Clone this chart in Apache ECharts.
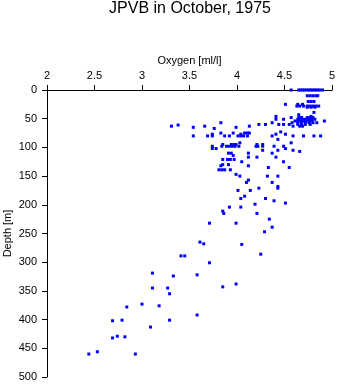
<!DOCTYPE html>
<html>
<head>
<meta charset="utf-8">
<script src="https://cdn.jsdelivr.net/npm/echarts@6/dist/echarts.min.js"></script>
<style>
html,body{margin:0;padding:0;background:#fff;}
#chart{width:338px;height:384px;}
</style>
</head>
<body>
<div id="chart"></div>
<script>
// Chart text
const titleText = 'JPVB in October, 1975';
const xName = 'Oxygen [ml/l]';
const yName = 'Depth [m]';

// Depth levels [m] and the oxygen values [ml/l] observed at each level
const depthLevels = [0,10,20,25,28,30,39,43,46,48,51,54,57,60,61,63,65,67,73,75,77,80,86,92,95,98,102,105,107,110,114,117,121,125,130,132,135,139,147,150,157,161,168,171,175,185,189,193,197,199,204,211,215,225,232,239,247,265,268,269,286,289,301,319,322,324,338,343,345,355,373,376,378,392,401,402,413,429,430,432,456,460];
const oxygenByLevel = [
  [4.57,4.65,4.67,4.69,4.71,4.73,4.75,4.77,4.79,4.81,4.83,4.85,4.87,4.90],
  [4.74,4.77,4.80,4.83,4.85],
  [4.75,4.78,4.81],
  [4.51,4.64,4.69],
  [4.63,4.66,4.70,4.74,4.77,4.80,4.83,4.86],
  [4.74,4.78,4.82],
  [4.81],
  [4.65],
  [4.41,4.78],
  [4.57,4.65,4.68,4.74,4.77,4.80],
  [4.41,4.49,4.64,4.67,4.70,4.73,4.76,4.79,4.82],
  [4.61,4.64,4.67,4.70,4.73,4.76,4.79,4.92],
  [3.83,4.37,4.58,4.64,4.68,4.72,4.76,4.80,4.84],
  [4.23,4.30,4.44,4.49,4.55,4.64,4.68,4.72,4.77],
  [3.38],
  [3.31,3.66,4.13,4.59,4.66,4.69],
  [3.54,3.99],
  [3.76],
  [4.46],
  [3.83,3.96,4.08,4.11,4.13],
  [3.74,4.04,4.41,4.51],
  [3.54,3.69,3.74,3.87,3.92,4.01,4.04,4.07,4.11,4.37,4.59,4.70,4.81,4.88],
  [4.43],
  [4.03,4.57],
  [3.85,3.94,3.97,3.99,4.21,4.27],
  [3.74,3.84,3.89,3.92,3.95,3.98,4.02,4.20,4.22,4.27,4.39,4.49],
  [3.74,3.78,4.51],
  [4.27,4.43,4.59],
  [4.66],
  [3.91,3.94,4.12,4.37],
  [3.96],
  [4.12,4.21,4.41],
  [3.85,3.90,3.93,3.97],
  [4.05,4.49],
  [3.85,3.91],
  [3.83,4.12],
  [4.33,4.55],
  [3.81,3.84,3.87,3.93],
  [3.99],
  [4.03,4.32,4.43],
  [4.12],
  [4.10,4.37],
  [4.43],
  [4.23,4.43],
  [4.01,4.14],
  [4.08],
  [4.04,4.30],
  [4.39],
  [4.51],
  [4.19],
  [3.92,4.04],
  [3.85],
  [3.86,4.21],
  [4.34],
  [3.71,3.99],
  [4.37],
  [4.29],
  [3.61],
  [3.65],
  [4.05],
  [4.25],
  [3.41,3.45],
  [3.71],
  [3.11],
  [3.58],
  [3.33],
  [3.99],
  [3.85],
  [3.11,3.27],
  [3.29],
  [3.00],
  [3.18],
  [2.84],
  [3.58],
  [2.79,3.29],
  [2.69],
  [3.09],
  [2.74],
  [2.82],
  [2.69],
  [2.53],
  [2.44,2.93]
];

const points = [];
depthLevels.forEach(function (d, i) {
  (oxygenByLevel[i] || []).forEach(function (o) { points.push([o, d]); });
});

const font = 'Liberation Sans, Arial, Helvetica, sans-serif';
const chart = echarts.init(document.getElementById('chart'), null, {renderer: 'canvas'});
chart.setOption({
  animation: false,
  backgroundColor: '#ffffff',
  title: {
    text: titleText,
    left: 190, top: 1, textAlign: 'center', padding: 0,
    textStyle: {fontFamily: font, fontSize: 16, fontWeight: 'normal', color: '#000'}
  },
  grid: {left: 47, top: 90, width: 285, height: 287, containLabel: false, outerBoundsMode: 'none'},
  xAxis: {
    type: 'value', position: 'top', min: 2, max: 5, interval: 0.5,
    name: xName, nameLocation: 'middle', nameGap: 24, nameMoveOverlap: false,
    nameTextStyle: {fontFamily: font, fontSize: 11, color: '#000'},
    axisLine: {show: true, lineStyle: {color: '#000', width: 1}},
    axisTick: {show: true, inside: false, length: 5, lineStyle: {color: '#000'}},
    axisLabel: {fontFamily: font, fontSize: 11, color: '#000', margin: 9},
    splitLine: {show: false}
  },
  yAxis: {
    type: 'value', inverse: true, min: 0, max: 500, interval: 50,
    name: yName, nameLocation: 'middle', nameGap: 34, nameRotate: 90, nameMoveOverlap: false,
    nameTextStyle: {fontFamily: font, fontSize: 11, color: '#000'},
    axisLine: {show: true, lineStyle: {color: '#000', width: 1}},
    axisTick: {show: true, inside: false, length: 5, lineStyle: {color: '#000'}},
    axisLabel: {fontFamily: font, fontSize: 11, color: '#000', margin: 10},
    splitLine: {show: false}
  },
  series: [{
    type: 'scatter',
    data: points,
    symbol: 'rect',
    symbolSize: [3, 3],
    itemStyle: {color: '#0000ff', opacity: 1},
    emphasis: {disabled: true}
  }]
});
</script>
</body>
</html>
